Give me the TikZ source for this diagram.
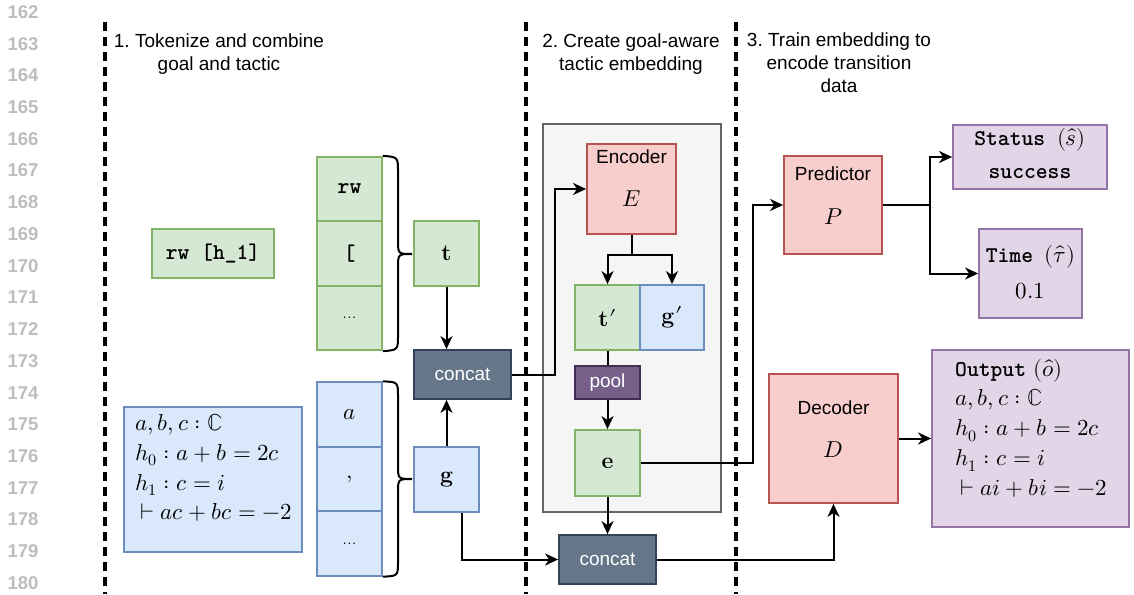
\documentclass[tikz,border=0pt]{standalone}
\usepackage{fontspec}
\usepackage{unicode-math}
\setmathfont{Latin Modern Math}
\setsansfont{Liberation Sans}
\usetikzlibrary{arrows.meta,calc}

\definecolor{grnfill}{HTML}{D5E8D4}\definecolor{grnline}{HTML}{82B366}
\definecolor{blufill}{HTML}{DAE8FC}\definecolor{bluline}{HTML}{6C8EBF}
\definecolor{redfill}{HTML}{F8CECC}\definecolor{redline}{HTML}{B85450}
\definecolor{purfill}{HTML}{E1D5E7}\definecolor{purline}{HTML}{9673A6}
\definecolor{slatefill}{HTML}{647687}\definecolor{slateline}{HTML}{314354}
\definecolor{poolfill}{HTML}{76608A}\definecolor{poolline}{HTML}{432D57}
\definecolor{boxgray}{HTML}{F5F5F5}\definecolor{boxgrayline}{HTML}{666666}
\definecolor{lnum}{HTML}{BDBDBD}

\newcommand{\sfnt}{\sffamily\fontsize{19}{23}\selectfont}
\newcommand{\mfnt}{\fontsize{23}{29.7}\selectfont}
\newcommand{\tfnt}{\ttfamily\bfseries\fontsize{22.5}{26}\selectfont}
\newcommand{\dotsfnt}{\fontsize{19}{19}\selectfont}

\tikzset{
  blk/.style={draw, line width=1.8pt, inner sep=0pt, anchor=center},
  grn/.style={blk, fill=grnfill, draw=grnline},
  blu/.style={blk, fill=blufill, draw=bluline},
  red/.style={blk, fill=redfill, draw=redline},
  pur/.style={blk, fill=purfill, draw=purline},
  slate/.style={blk, fill=slatefill, draw=slateline, text=white, font=\sfnt},
  poolbox/.style={blk, fill=poolfill, draw=poolline, text=white, font=\sfnt},
  lbl/.style={inner sep=0pt, anchor=center},
  arr/.style={line width=2pt, -{Stealth[length=13pt,width=12pt,inset=4pt]}},
  ln/.style={line width=2pt},
  brc/.style={line width=2pt},
  sep/.style={line width=3.2pt, dash pattern=on 9pt off 6pt},
}

\begin{document}
\begin{tikzpicture}[x=1pt,y=-1pt]
\useasboundingbox (0,0) rectangle (1134,594);

% line numbers
\foreach \n in {162,...,180}{
  \node[lbl, text=lnum, font=\sffamily\bfseries\fontsize{18.5}{20}\selectfont]
    at (23,{12+(\n-162)*31.72}) {\n};
}

% stage separators
\draw[sep] (105,22) -- (105,594);
\draw[sep] (526,22) -- (526,594);
\draw[sep] (736,22) -- (736,594);

% stage headings
\node[lbl, align=center, font=\sfnt] (h1) at (219,54) {1.\ Tokenize and combine\\goal and tactic};
\node[lbl, align=center, font=\sfnt] (h2) at (631,54) {2.\ Create goal-aware\\tactic embedding};
\node[lbl, align=center, font=\sfnt] (h3) at (839,63) {3.\ Train embedding to\\encode transition\\data};

% tactic and its tokens
\node[grn, minimum width=122pt, minimum height=49pt] (rw) at (213,253.5) {\tfnt rw [h\_1]};
\node[grn, minimum width=65pt, minimum height=64.5pt] (tk1) at (349.5,189) {\tfnt rw};
\node[grn, minimum width=65pt, minimum height=64.5pt] (tk2) at (349.5,253.5) {\tfnt [};
\node[grn, minimum width=65pt, minimum height=64.5pt] (tk3) at (349.5,318) {\dotsfnt ...};

% goal and its tokens
\node[blu, minimum width=178pt, minimum height=145pt] (goal) at (213,479.5) {};
\node[lbl, anchor=west, align=left, font=\mfnt] (goaltxt) at (135,468)
  {$a,b,c:\mathbb{C}$\\$h_0:a+b=2c$\\$h_1:c=i$\\\hspace{5pt}$\vdash ac+bc=-2$};
\node[blu, minimum width=65pt, minimum height=64.5pt] (bk1) at (349.5,414.5) {\mfnt $a$};
\node[blu, minimum width=65pt, minimum height=64.5pt] (bk2) at (349.5,479) {\mfnt $,$};
\node[blu, minimum width=65pt, minimum height=64.5pt] (bk3) at (349.5,543.5) {\dotsfnt ...};

% braces grouping the tokens
\draw[brc] (tk1.north east) .. controls (398,157) .. (398,172) -- (398,240)
  .. controls (398,254) .. (412,254) .. controls (398,254) .. (398,268)
  -- (398,335) .. controls (398,350) .. (tk3.south east);
\draw[brc] (bk1.north east) .. controls (398,382) .. (398,397) -- (398,465)
  .. controls (398,479) .. (412,479) .. controls (398,479) .. (398,493)
  -- (398,561) .. controls (398,576) .. (bk3.south east);

\node[grn, minimum width=65pt, minimum height=65pt] (t) at (446.5,253.5) {\mfnt $\mathbf{t}$};
\node[blu, minimum width=65pt, minimum height=65pt] (g) at (446.5,479.5) {\mfnt $\mathbf{g}$};
\node[slate, minimum width=97pt, minimum height=49pt] (cat1) at (462.5,374.5) {concat};

% goal-aware encoder
\node[blk, fill=boxgray, draw=boxgrayline, minimum width=178pt, minimum height=388pt] (cont) at (632,318) {};
\node[red, minimum width=89pt, minimum height=90pt] (enc) at (631.5,189) {};
\node[lbl, font=\sfnt] (enclbl) at (631.5,157) {Encoder};
\node[lbl, font=\mfnt] (encsym) at (631.5,199) {$E$};
\node[grn, minimum width=65pt, minimum height=65pt] (tp) at (607.5,317.5) {\mfnt $\mathbf{t}\mkern1mu\prime$};
\node[blu, minimum width=64pt, minimum height=65pt] (gp) at (672,317.5) {\mfnt $\mathbf{g}\mkern1mu\prime$};
\node[poolbox, minimum width=65pt, minimum height=33pt] (pool) at (607.5,382.5) {pool};
\node[grn, minimum width=65pt, minimum height=66pt] (e) at (607.5,463) {\mfnt $\mathbf{e}$};
\node[slate, minimum width=97pt, minimum height=49pt] (cat2) at (607.5,559.5) {concat};

% predictor and decoder
\node[red, minimum width=98pt, minimum height=98pt] (pred) at (833,205) {};
\node[lbl, font=\sfnt] (predlbl) at (833,174) {Predictor};
\node[lbl, font=\mfnt] (predsym) at (833,217) {$P$};
\node[red, minimum width=129pt, minimum height=129pt] (dec) at (833.5,438.5) {};
\node[lbl, font=\sfnt] (declbl) at (833.5,408) {Decoder};
\node[lbl, font=\mfnt] (decsym) at (833.5,450) {$D$};

% outputs
\node[pur, minimum width=154pt, minimum height=64pt] (status) at (1030,157) {};
\node[lbl] (statustxt1) at (1030,140) {\tfnt Status\ \mfnt$(\hat{s})$};
\node[lbl] (statustxt2) at (1030,174) {\tfnt success};
\node[pur, minimum width=103pt, minimum height=89pt] (time) at (1030.5,273.5) {};
\node[lbl] (timetxt1) at (1030.5,257) {\tfnt Time\ \mfnt$(\hat{\tau})$};
\node[lbl, font=\mfnt] (timetxt2) at (1030.5,291) {$0.1$};
\node[pur, minimum width=197pt, minimum height=177pt] (out) at (1030.5,438.5) {};
\node[lbl, anchor=west, align=left, font=\mfnt] (outtxt) at (955,428)
  {{\tfnt Output}\ $(\hat{o})$\\$a,b,c:\mathbb{C}$\\$h_0:a+b=2c$\\$h_1:c=i$\\\hspace{5pt}$\vdash ai+bi=-2$};

% connectors
\draw[arr] (t.south) -- (t.south |- cat1.north);
\draw[arr] (g.north) -- (g.north |- cat1.south);
\draw[arr] (cat1.east) -- ++(43,0) |- (enc.west);
\draw[ln] (enc.south) -- ++(0,20) coordinate (split);
\draw[arr] (split) -| (tp.north);
\draw[arr] (split) -| (gp.north);
\draw[ln] (tp.south) -- (pool.north);
\draw[arr] (pool.south) -- (e.north);
\draw[arr] (e.south) -- (cat2.north);
\draw[arr] ([xshift=15.5pt]g.south) |- (cat2.west);
\draw[arr] (cat2.east) -| (dec.south);
\draw[arr] (e.east) -- ++(112,0) |- (pred.west);
\draw[ln] (pred.east) -- ++(47,0) coordinate (fork);
\draw[arr] (fork) |- (status.west);
\draw[arr] (fork) |- (time.west);
\draw[arr] (dec.east) -- (out.west);
\end{tikzpicture}
\end{document}
